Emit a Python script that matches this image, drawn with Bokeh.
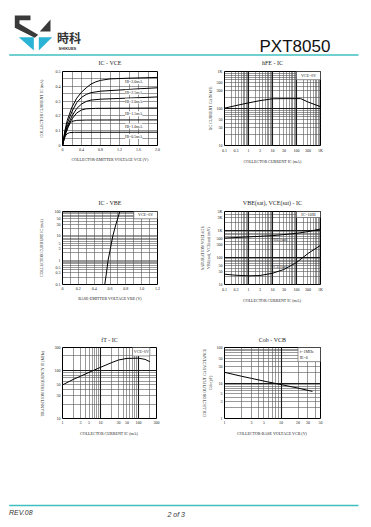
import math
from bokeh.plotting import figure
from bokeh.layouts import column, row
from bokeh.models import Range1d, FixedTicker, Grid, LabelSet, ColumnDataSource, LinearAxis
from bokeh.embed import file_html
from bokeh.resources import INLINE
from bokeh.core.properties import value

# ------------------------------------------------------------------ data
# Chart 1: IC - VCE  (x: VCE in V, y: IC)
vce_ib30 = [0, 0.05, 0.1, 0.2, 0.3, 0.4, 0.5, 0.6, 0.7, 0.8, 1.0, 1.4, 2.0]
ic_ib30 = [0, 0.10, 0.17, 0.26, 0.32, 0.36, 0.39, 0.415, 0.43, 0.44, 0.45, 0.455, 0.46]
vce_ib25 = [0, 0.05, 0.1, 0.2, 0.3, 0.4, 0.5, 0.6, 0.8, 1.2, 1.6, 2.0]
ic_ib25 = [0, 0.09, 0.15, 0.23, 0.29, 0.325, 0.345, 0.357, 0.367, 0.375, 0.383, 0.39]
vce_ib20 = [0, 0.05, 0.1, 0.2, 0.3, 0.4, 0.5, 0.6, 0.8, 1.2, 1.6, 2.0]
ic_ib20 = [0, 0.08, 0.13, 0.20, 0.25, 0.28, 0.298, 0.307, 0.313, 0.318, 0.323, 0.328]
vce_ib15 = [0, 0.05, 0.1, 0.2, 0.3, 0.4, 0.5, 0.7, 1.2, 2.0]
ic_ib15 = [0, 0.07, 0.12, 0.18, 0.22, 0.24, 0.248, 0.251, 0.252, 0.253]
vce_ib10 = [0, 0.04, 0.08, 0.12, 0.16, 0.2, 0.3, 0.5, 2.0]
ic_ib10 = [0, 0.05, 0.09, 0.125, 0.15, 0.163, 0.17, 0.172, 0.173]
vce_ib05 = [0, 0.03, 0.06, 0.1, 0.15, 0.25, 2.0]
ic_ib05 = [0, 0.04, 0.065, 0.08, 0.087, 0.089, 0.09]
ib_labels = ["IB=3.0mA", "IB=2.5mA", "IB=2.0mA", "IB=1.5mA", "IB=1.0mA", "IB=0.5mA"]
ib_label_x = [1.5, 1.5, 1.5, 1.5, 1.5, 1.5]
ib_label_y = [0.43, 0.36, 0.30, 0.215, 0.131, 0.061]

# Chart 2: hFE - IC
hfe_ic = [0.1, 0.3, 1, 3, 10, 30, 100, 150, 300, 1000]
hfe_val = [102, 120, 142, 163, 183, 185, 185, 185, 150, 112]

# Chart 3: IC - VBE
vbe_v = [0.534, 0.555, 0.576, 0.605, 0.636, 0.675, 0.700, 0.722]
vbe_ic = [0.1, 0.3, 1, 3, 10, 30, 55, 95]

# Chart 4: VBE(sat), VCE(sat) - IC
sat_ic = [0.1, 0.3, 1, 3, 10, 30, 100, 300, 1000]
vbe_sat = [520, 545, 575, 605, 640, 700, 780, 900, 1130]
vce_sat = [24, 22, 21, 21.5, 26, 36, 65, 140, 280]

# Chart 5: fT - IC
ft_ic = [1, 2, 3, 5, 10, 20, 30, 50, 100, 150, 200]
ft_val = [50, 66, 76, 91, 116, 146, 165, 178, 180, 170, 152]

# Chart 6: Cob - VCB
cob_vcb = [1, 2, 3, 5, 10, 20, 36]
cob_val = [20, 15.5, 13.5, 11.3, 9.0, 7.2, 5.8]

# tick labels
t1x = [0, 0.4, 0.8, 1.2, 1.6, 2.0]; t1xl = ["0", "0.4", "0.8", "1.2", "1.6", "2.0"]
t1y = [0, 0.1, 0.2, 0.3, 0.4, 0.5]; t1yl = ["0", "0.1", "0.2", "0.3", "0.4", "0.5"]
tcx = [0.1, 0.3, 1, 3, 10, 30, 100, 300, 1000]
tcxl = ["0.1", "0.3", "1", "3", "10", "30", "100", "300", "1K"]
t2y = [10, 30, 50, 100, 300, 500, 1000]; t2yl = ["10", "30", "50", "100", "300", "500", "1K"]
t3x = [0, 0.2, 0.4, 0.6, 0.8, 1.0, 1.2]; t3xl = ["0", "0.2", "0.4", "0.6", "0.8", "1.0", "1.2"]
t3y = [0.1, 0.3, 0.5, 1, 3, 5, 10, 30, 50, 100]
t3yl = ["0.1", "0.3", "0.5", "1", "3", "5", "10", "30", "50", "100"]
t4y = [10, 30, 50, 100, 300, 500, 1000, 3000, 5000]
t4yl = ["10", "30", "50", "100", "300", "500", "1K", "3K", "5K"]
t5x = [1, 3, 5, 10, 30, 50, 100, 300]; t5xl = ["1", "3", "5", "10", "30", "50", "100", "300"]
t5y = [10, 30, 50, 100, 300]; t5yl = ["10", "30", "50", "100", "300"]
t6x = [1, 3, 5, 10, 20, 30, 50]; t6xl = ["1", "3", "5", "10", "20", "30", "50"]
t6y = [1, 3, 5, 10, 30, 50, 100]; t6yl = ["1", "3", "5", "10", "30", "50", "100"]

# ------------------------------------------------------------------ styling helpers
SERIF = "Liberation Serif"
TEAL = "#40bfc0"
GRID_MINOR = "#555555"
TXT = "#222222"


def log_lines(lo, hi):
    out = []
    e = math.floor(math.log10(lo) + 1e-9)
    while 10 ** e <= hi * 1.0001:
        for k in range(1, 10):
            v = round(k * 10 ** e, 6)
            if lo * 0.9999 <= v <= hi * 1.0001:
                out.append(v)
        e += 1
    return out


def decades(lo, hi):
    out = []
    e = math.floor(math.log10(lo) + 1e-9)
    while 10 ** e <= hi * 1.0001:
        v = round(10 ** e, 6)
        if lo * 0.9999 <= v:
            out.append(v)
        e += 1
    return out


def lin_lines(lo, hi, step):
    n = int(round((hi - lo) / step))
    return [round(lo + i * step, 6) for i in range(n + 1)]


def bare_axis(ax):
    ax.major_tick_line_color = None
    ax.minor_tick_line_color = None
    ax.major_tick_out = 0
    ax.major_tick_in = 0
    ax.minor_tick_out = 0
    ax.minor_tick_in = 0
    ax.axis_line_color = None


def make_chart(fw, fh, bl, br, bt, bb, xr, yr, xlog, ylog, xt, xl, yt, yl,
               xg_minor, xg_major, yg_minor, yg_major, title, title_gap, xlabel, ylabel,
               ylab_standoff, xlab_standoff):
    p = figure(frame_width=fw, frame_height=fh,
               min_border_left=bl, min_border_right=br,
               min_border_top=bt, min_border_bottom=bb,
               x_range=Range1d(*xr), y_range=Range1d(*yr),
               x_axis_type="log" if xlog else "linear",
               y_axis_type="log" if ylog else "linear",
               toolbar_location=None, output_backend="svg")
    p.title.visible = False
    p.grid.visible = False
    p.outline_line_color = "black"
    p.outline_line_width = 1
    p.background_fill_color = "white"
    p.border_fill_color = "white"

    bottom_ax = p.below[0]
    left_ax = p.left[0]
    for ax, ticks, labels in ((bottom_ax, xt, xl), (left_ax, yt, yl)):
        ax.ticker = FixedTicker(ticks=ticks)
        ax.major_label_overrides = dict(zip(ticks, labels))
        bare_axis(ax)
        ax.major_label_text_font = SERIF
        ax.major_label_text_font_size = "4px"
        ax.major_label_text_color = TXT
        ax.major_label_standoff = 2
        ax.axis_label_text_font = SERIF
        ax.axis_label_text_font_size = "4px"
        ax.axis_label_text_font_style = "normal"
        ax.axis_label_text_color = TXT
    bottom_ax.axis_label = xlabel
    left_ax.axis_label = ylabel
    bottom_ax.axis_label_standoff = xlab_standoff
    left_ax.axis_label_standoff = ylab_standoff

    # chart title carried by an empty top axis so that its gap to the frame is exact
    top = LinearAxis(ticker=FixedTicker(ticks=[]), axis_label=title)
    bare_axis(top)
    top.major_label_standoff = 0
    top.axis_label_standoff = int(title_gap)
    top.axis_label_text_font = SERIF
    top.axis_label_text_font_size = "6px"
    top.axis_label_text_font_style = "normal"
    top.axis_label_text_color = TXT
    p.add_layout(top, "above")

    for g, dim, w, c in ((xg_minor, 0, 0.6, GRID_MINOR), (yg_minor, 1, 0.6, GRID_MINOR),
                         (xg_major, 0, 1.1, "#1a1a1a"), (yg_major, 1, 1.1, "#1a1a1a")):
        if g:
            p.add_layout(Grid(dimension=dim, ticker=FixedTicker(ticks=g),
                              grid_line_color=c, grid_line_width=w))
    return p


def note_box(p, left, right, bottom, top):
    p.quad(left=[left], right=[right], bottom=[bottom], top=[top],
           fill_color="white", line_color=GRID_MINOR, line_width=0.6)


def note_text(p, x, y, txt, align="center"):
    p.text(x=[x], y=[y], text=[txt], text_font=value(SERIF), text_font_size="4px",
           text_align=align, text_baseline="middle", text_color=TXT)


CURVE = dict(line_color="black", line_width=1)

# ------------------------------------------------------------------ chart 1
p1 = make_chart(95, 74, 62, 33, 15, 50, (0, 2.0), (0, 0.5), False, False,
                t1x, t1xl, t1y, t1yl,
                lin_lines(0, 2.0, 0.2), [], lin_lines(0, 0.5, 0.05), [],
                "IC - VCE", 6, "COLLECTOR-EMITTER VOLTAGE VCE (V)",
                "COLLECTOR CURRENT IC (mA)", 9, 3)
for xs, ys in ((vce_ib30, ic_ib30), (vce_ib25, ic_ib25), (vce_ib20, ic_ib20),
               (vce_ib15, ic_ib15), (vce_ib10, ic_ib10), (vce_ib05, ic_ib05)):
    p1.line(xs, ys, **CURVE)
lab_src = ColumnDataSource(dict(x=ib_label_x, y=ib_label_y, t=ib_labels))
p1.add_layout(LabelSet(x="x", y="y", text="t", source=lab_src, text_font=SERIF,
                       text_font_size="4px", text_align="center", text_baseline="middle",
                       text_color=TXT, background_fill_color="white"))

# ------------------------------------------------------------------ chart 2
p2 = make_chart(96, 74, 34, 51, 15, 50, (0.1, 1000), (10, 1000), True, True,
                tcx, tcxl, t2y, t2yl,
                log_lines(0.1, 1000), decades(0.1, 1000), log_lines(10, 1000), decades(10, 1000),
                "hFE - IC", 6, "COLLECTOR CURRENT IC (mA)", "DC CURRENT GAIN hFE", 1, 3)
p2.line(hfe_ic, hfe_val, **CURVE)
note_box(p2, 100, 1000, 600, 1000)
note_text(p2, 316, 780, "VCE=6V")

# ------------------------------------------------------------------ chart 3
p3 = make_chart(95, 73, 62, 33, 16, 49, (0, 1.2), (0.1, 100), False, True,
                t3x, t3xl, t3y, t3yl,
                lin_lines(0, 1.2, 0.1), [], log_lines(0.1, 100), [],
                "IC - VBE", 6, "BASE-EMITTER VOLTAGE VBE (V)",
                "COLLECTOR CURRENT IC (mA)", 8, 3)
p3.line(vbe_v, vbe_ic, **CURVE)
note_box(p3, 0.9, 1.2, 50, 100)
note_text(p3, 1.05, 72, "VCE=6V")

# ------------------------------------------------------------------ chart 4
p4 = make_chart(96, 73, 34, 51, 16, 49, (0.1, 1000), (10, 5000), True, True,
                tcx, tcxl, t4y, t4yl,
                log_lines(0.1, 1000), decades(0.1, 1000), log_lines(10, 5000), decades(10, 5000),
                "VBE(sat), VCE(sat) - IC", 6, "COLLECTOR CURRENT IC  (mA)",
                "SATURATION VOLTAGE\nVBE(sat), VCE(sat) (mV)", 3, 3)
p4.line(sat_ic, vbe_sat, **CURVE)
p4.line(sat_ic, vce_sat, **CURVE)
note_box(p4, 100, 1000, 3000, 5000)
note_text(p4, 316, 3900, "IC=10IB")
note_text(p4, 19, 470, "VBE (sat)")
note_text(p4, 19, 47, "VCE (sat)")

# ------------------------------------------------------------------ chart 5
p5 = make_chart(94, 71, 62, 34, 14, 82, (1, 300), (10, 300), True, True,
                t5x, t5xl, t5y, t5yl,
                log_lines(1, 300), decades(1, 300), log_lines(10, 300), decades(10, 300),
                "fT - IC", 5, "COLLECTOR CURRENT IC  (mA)",
                "TRANSITION FREQUENCY fT  (MHz)", 7, 4)
p5.line(ft_ic, ft_val, **CURVE)
note_box(p5, 70, 200, 200, 300)
note_text(p5, 120, 245, "VCE=6V")

# ------------------------------------------------------------------ chart 6
p6 = make_chart(96, 71, 34, 51, 14, 82, (1, 50), (1, 100), True, True,
                t6x, t6xl, t6y, t6yl,
                log_lines(1, 50), decades(1, 50), log_lines(1, 100), decades(1, 100),
                "Cob - VCB", 5, "COLLECTOR-BASE VOLTAGE VCB  (V)",
                "COLLECTOR OUTPUT CAPACITANCE\nCob (pF)", 1, 4)
p6.line(cob_vcb, cob_val, **CURVE)
note_box(p6, 20, 50, 40, 100)
note_text(p6, 21.5, 78, "f=1MHz", align="left")
note_text(p6, 21.5, 52, "IE=0", align="left")

# ------------------------------------------------------------------ header (page pixel coords)
logo_s_x = [14.3, 30, 30, 19, 19, 37.7, 34.3, 14.3]
logo_s_y = [15, 15, 19.7, 19.7, 23.3, 34.3, 37.3, 27.3]
logo_tri_x = [39.3, 50, 50]
logo_tri_y = [31, 19, 31]
logo_cl_x = [18.3, 33.3, 33.3]
logo_cl_y = [36.7, 36.7, 50]
logo_cr_x = [38.3, 51.7, 38.3]
logo_cr_y = [36.7, 36.7, 50]


def blank(h):
    f = figure(frame_width=371, frame_height=h, x_range=Range1d(0, 371), y_range=Range1d(h, 0),
               toolbar_location=None, output_backend="svg",
               x_axis_location=None, y_axis_location=None, min_border=0)
    f.title.visible = False
    f.grid.visible = False
    f.outline_line_color = None
    return f


hdr = blank(56)
hdr.patch(logo_s_x, logo_s_y, fill_color="#3a3a3a", line_color=None)
hdr.patch(logo_tri_x, logo_tri_y, fill_color="#3a3a3a", line_color=None)
hdr.patch(logo_cl_x, logo_cl_y, fill_color="#2bb3d6", line_color=None)
hdr.patch(logo_cr_x, logo_cr_y, fill_color="#2bb3d6", line_color=None)
hdr.text(x=[56.5], y=[37], text=["時科"], text_font=value("Noto Sans CJK SC"),
         text_font_size="12px", text_font_style="bold", text_color="#333333",
         text_baseline="middle")
hdr.text(x=[58], y=[47.5], text=["SHIKUES"], text_font=value("Liberation Sans"),
         text_font_size="4px", text_font_style="bold", text_color="#333333",
         text_baseline="middle")
hdr.text(x=[259], y=[46], text=["PXT8050"], text_font=value("Liberation Sans"),
         text_font_size="17px", text_color="#111111", text_baseline="middle")
hdr.line([8.7, 358], [54.5, 54.5], line_color=TEAL, line_width=1.5)

# ------------------------------------------------------------------ footer (page y - 500)
ftr = blank(27)
ftr.line([8.7, 358], [5, 5], line_color=TEAL, line_width=1.5)
ftr.text(x=[8.5], y=[11.5], text=["REV.08"], text_font=value("Liberation Sans"),
         text_font_size="7px", text_font_style="italic", text_color="#333333",
         text_baseline="middle")
ftr.text(x=[167], y=[13.5], text=["2 of 3"], text_font=value("Liberation Sans"),
         text_font_size="7px", text_font_style="italic", text_color="#333333",
         text_baseline="middle")

layout = column(hdr, row(p1, p2), row(p3, p4), row(p5, p6), ftr)
open("out.html", "w").write(file_html(layout, INLINE))
